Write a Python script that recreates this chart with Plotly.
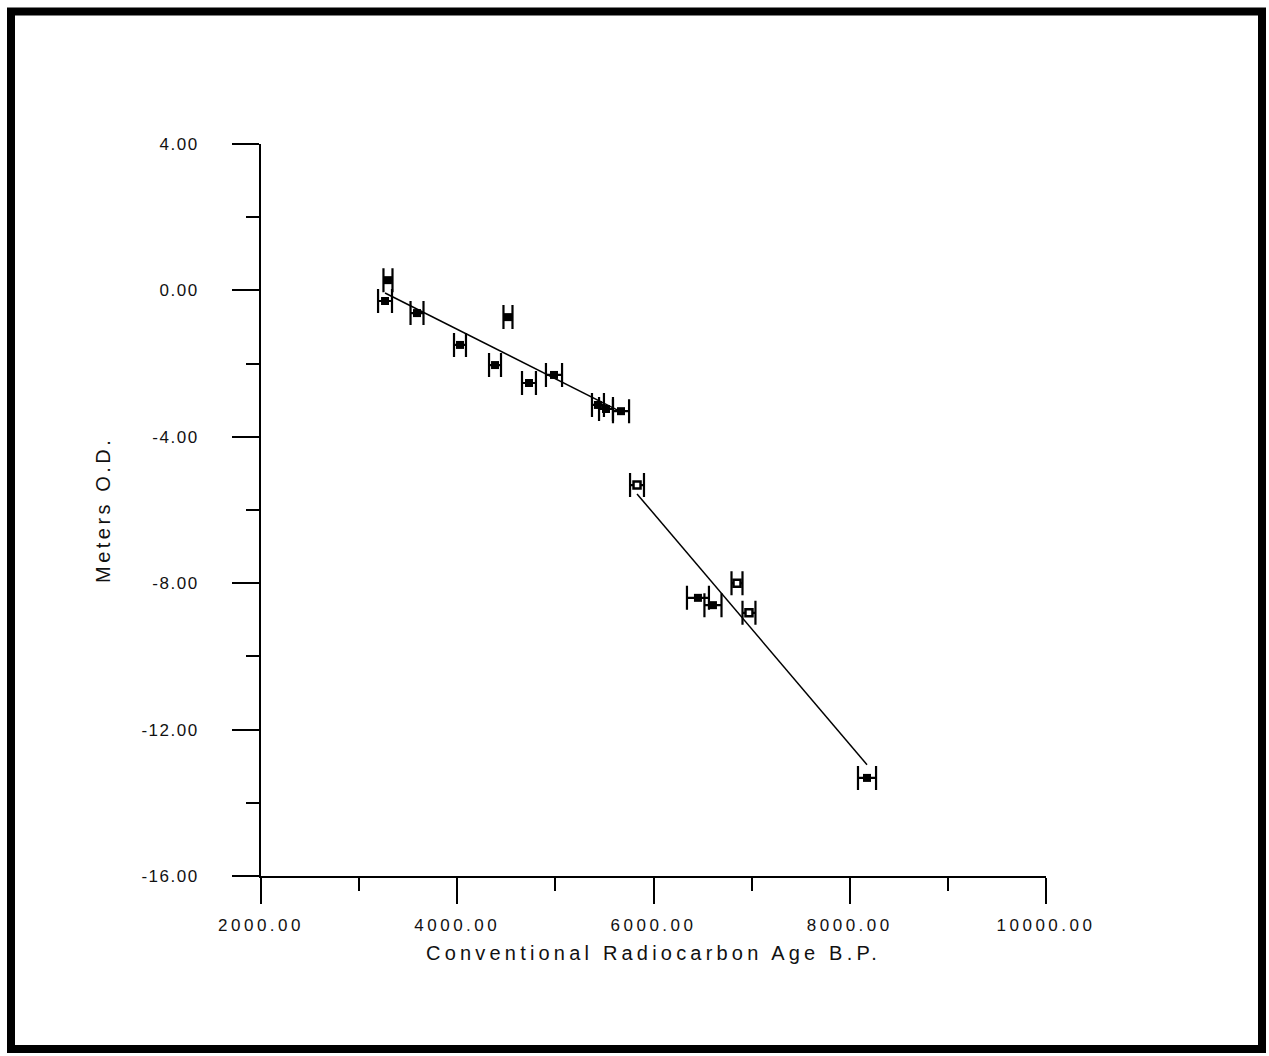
import plotly.graph_objects as go

# ---- data ----
# Group 1 (upper trend), all solid markers
g1_age = [3294, 3264, 3590, 4028, 4517, 4385, 4731, 4986, 5434, 5516, 5669]
g1_depth = [0.28, -0.29, -0.62, -1.49, -0.73, -2.04, -2.53, -2.31, -3.13, -3.24, -3.30]
g1_err = [46, 71, 66, 61, 46, 61, 71, 82, 61, 71, 82]

# Group 2 (lower trend), solid markers
g2s_age = [6453, 6606, 8176]
g2s_depth = [-8.40, -8.60, -13.32]
g2s_err = [112, 87, 92]

# Group 2, open markers
g2o_age = [5832, 6851, 6973]
g2o_depth = [-5.32, -8.00, -8.81]
g2o_err = [71, 56, 66]

# Trend lines (end points)
fit1_age = [3264, 5669]
fit1_depth = [-0.07, -3.32]
fit2_age = [5832, 8176]
fit2_depth = [-5.56, -12.96]

x_tick_vals = [2000, 4000, 6000, 8000, 10000]
x_tick_labels = ["2000.00", "4000.00", "6000.00", "8000.00", "10000.00"]
y_tick_vals = [4, 0, -4, -8, -12, -16]
y_tick_labels = ["4.00", "0.00", "-4.00", "-8.00", "-12.00", "-16.00"]

x_title = "Conventional Radiocarbon Age B.P."
y_title = "Meters O.D."

FONT = "Liberation Sans, Arial, sans-serif"


def spaced(t, px):
    return f'<span style="letter-spacing:{px}px">{t}</span>'


fig = go.Figure()

line_style = dict(color="black", width=1.5)
fig.add_trace(go.Scatter(x=fit1_age, y=fit1_depth, mode="lines", line=line_style,
                         hoverinfo="skip", showlegend=False))
fig.add_trace(go.Scatter(x=fit2_age, y=fit2_depth, mode="lines", line=line_style,
                         hoverinfo="skip", showlegend=False))


def err(arr):
    return dict(type="data", array=arr, visible=True, color="black",
                thickness=2.2, width=12)


fig.add_trace(go.Scatter(
    x=g1_age, y=g1_depth, mode="markers", error_x=err(g1_err),
    marker=dict(symbol="square", size=8, color="black", line=dict(width=0)),
    showlegend=False))
fig.add_trace(go.Scatter(
    x=g2s_age, y=g2s_depth, mode="markers", error_x=err(g2s_err),
    marker=dict(symbol="square", size=8, color="black", line=dict(width=0)),
    showlegend=False))
fig.add_trace(go.Scatter(
    x=g2o_age, y=g2o_depth, mode="markers", error_x=err(g2o_err),
    marker=dict(symbol="square", size=7, color="white",
                line=dict(width=2.5, color="black")),
    showlegend=False))

fig.update_layout(
    width=1269, height=1056,
    margin=dict(l=261, r=223, t=144, b=180, pad=0),
    paper_bgcolor="white", plot_bgcolor="white",
    font=dict(family=FONT, color="black", size=17),
    showlegend=False,
)

fig.update_xaxes(
    range=[2000, 10000], showgrid=False, zeroline=False,
    showline=True, linecolor="black", linewidth=2,
    ticks="outside", ticklen=26, tickwidth=1.5, tickcolor="black",
    tickvals=x_tick_vals, ticktext=[spaced(t, 3.5) for t in x_tick_labels],
    tickfont=dict(family=FONT, size=17, color="#111"),
    ticklabelstandoff=7,
    minor=dict(dtick=1000, tick0=0, ticks="outside", ticklen=13,
               tickwidth=1.5, tickcolor="black", showgrid=False),
)
fig.update_yaxes(
    range=[-16, 4], showgrid=False, zeroline=False,
    showline=True, linecolor="black", linewidth=2,
    ticks="outside", ticklen=27, tickwidth=1.5, tickcolor="black",
    tickvals=y_tick_vals, ticktext=[spaced(t, 1.5) for t in y_tick_labels],
    tickfont=dict(family=FONT, size=17, color="#111"),
    ticklabelstandoff=30,
    minor=dict(dtick=2, tick0=0, ticks="outside", ticklen=13,
               tickwidth=1.5, tickcolor="black", showgrid=False),
)

# axis titles
fig.add_annotation(
    text=spaced(x_title, 4.2), x=0.5, y=(876 - 953) / 732,
    xref="paper", yref="paper", xanchor="center", yanchor="middle",
    showarrow=False, font=dict(family=FONT, size=20, color="#111"))
fig.add_annotation(
    text=spaced(y_title, 3.5), x=(103 - 261) / 785, y=(876 - 510) / 732,
    xref="paper", yref="paper", xanchor="center", yanchor="middle",
    textangle=-90, showarrow=False, font=dict(family=FONT, size=20, color="#111"))

# outer frame
fig.add_shape(
    type="rect", xref="paper", yref="paper",
    x0=(11 - 261) / 785, x1=(1262 - 261) / 785,
    y0=(876 - 1049) / 732, y1=(876 - 11.5) / 732,
    line=dict(color="black", width=8), fillcolor="rgba(0,0,0,0)", layer="above")

fig.write_html("out.html",
               config={"displayModeBar": False},
               post_script="document.body.style.margin='0px';document.body.style.padding='0px';")
